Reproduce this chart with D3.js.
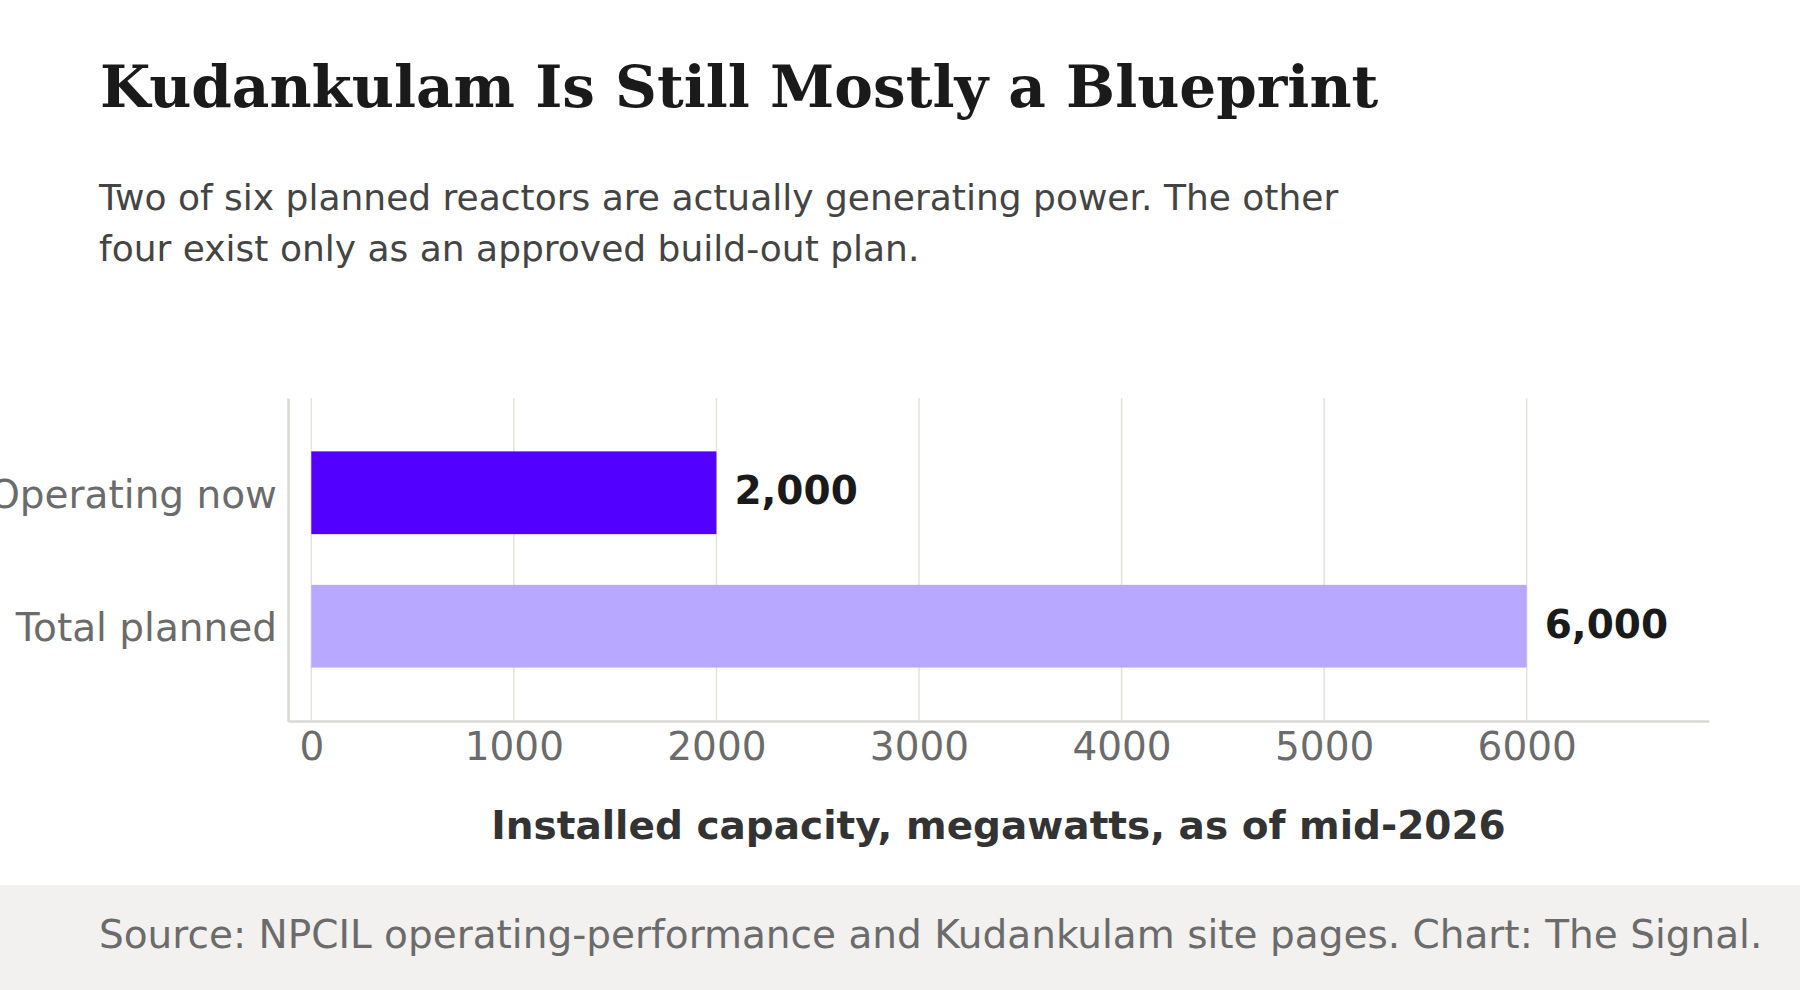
<!DOCTYPE html>
<html>
<head>
<meta charset="utf-8">
<script src="https://cdn.jsdelivr.net/npm/d3@7"></script>
<style>
  body { margin: 0; background: #fff; }
  svg { display: block; }
</style>
</head>
<body>
<div id="chart"></div>
<script>
// chart data
var categories = ["Operating now", "Total planned"];
var capacityMW = [2000, 6000];
var barColors = ["#5200ff", "#b8a8ff"];
var xTicks = [0, 1000, 2000, 3000, 4000, 5000, 6000];

var W = 1800, H = 990;
var margin = { top: 398, right: 91, bottom: 269, left: 288 };
var width = W - margin.left - margin.right;
var height = H - margin.top - margin.bottom;

var svg = d3.select("#chart").append("svg")
    .attr("width", W)
    .attr("height", H);

// title + subtitle
svg.append("text")
    .attr("x", 100)
    .attr("y", 107)
    .style("font-family", "'DejaVu Serif', serif")
    .style("font-weight", "bold")
    .style("font-size", "58px")
    .style("fill", "#1a1a1a")
    .text("Kudankulam Is Still Mostly a Blueprint");

var subLines = ["Two of six planned reactors are actually generating power. The other",
                "four exist only as an approved build-out plan."];
svg.append("g").selectAll("text")
    .data(subLines)
    .enter().append("text")
    .attr("x", 99)
    .attr("y", function(d, i) { return 210 + i * 51; })
    .style("font-family", "'DejaVu Sans', sans-serif")
    .style("font-size", "36px")
    .style("fill", "#444")
    .text(function(d) { return d; });

var x = d3.scaleLinear()
    .domain([-115, 6900])
    .range([0, width]);

var y = d3.scaleBand()
    .domain(categories)
    .range([0, height])
    .paddingInner(0.38)
    .paddingOuter(0.4);

var g = svg.append("g")
    .attr("transform", "translate(" + margin.left + "," + margin.top + ")");

// gridlines
g.append("g").selectAll("line")
    .data(xTicks)
    .enter().append("line")
    .attr("x1", function(d) { return x(d); })
    .attr("x2", function(d) { return x(d); })
    .attr("y1", 0)
    .attr("y2", height)
    .style("stroke", "#e3e2df")
    .style("stroke-width", 1.5);

// bars
g.selectAll(".bar")
    .data(categories)
    .enter().append("rect")
    .attr("class", "bar")
    .attr("x", x(0))
    .attr("y", function(d) { return y(d); })
    .attr("width", function(d, i) { return x(capacityMW[i]) - x(0); })
    .attr("height", y.bandwidth())
    .style("fill", function(d, i) { return barColors[i]; });

// value labels
g.selectAll(".val")
    .data(categories)
    .enter().append("text")
    .attr("class", "val")
    .attr("x", function(d, i) { return x(capacityMW[i]) + 18; })
    .attr("y", function(d) { return y(d) + y.bandwidth() / 2; })
    .attr("dy", "0.3em")
    .style("font-family", "'DejaVu Sans', sans-serif")
    .style("font-weight", "bold")
    .style("font-size", "39px")
    .style("fill", "#1a1a1a")
    .text(function(d, i) { return d3.format(",")(capacityMW[i]); });

// x axis
var xAxis = g.append("g")
    .attr("transform", "translate(0," + height + ")")
    .call(d3.axisBottom(x).tickValues(xTicks).tickFormat(d3.format("d")).tickSize(0).tickPadding(11));
xAxis.select(".domain").style("stroke", "#d8d7d3").style("stroke-width", 2.5);
xAxis.selectAll("text")
    .attr("dy", "0.71em")
    .style("font-family", "'DejaVu Sans', sans-serif")
    .style("font-size", "39px")
    .style("fill", "#6b6b6b");

// y axis
var yAxis = g.append("g")
    .call(d3.axisLeft(y).tickSize(0).tickPadding(11));
yAxis.select(".domain").style("stroke", "#d8d7d3").style("stroke-width", 2.5);
yAxis.selectAll("text")
    .attr("dy", "0.38em")
    .style("font-family", "'DejaVu Sans', sans-serif")
    .style("font-size", "39px")
    .style("fill", "#6b6b6b");

// axis title
g.append("text")
    .attr("x", width / 2)
    .attr("y", 441)
    .attr("text-anchor", "middle")
    .style("font-family", "'DejaVu Sans', sans-serif")
    .style("font-weight", "bold")
    .style("font-size", "39px")
    .style("fill", "#333")
    .text("Installed capacity, megawatts, as of mid-2026");

// footer band
svg.append("rect")
    .attr("x", 0)
    .attr("y", 885)
    .attr("width", W)
    .attr("height", H - 885)
    .style("fill", "#f2f1f0");

svg.append("text")
    .attr("x", 99)
    .attr("y", 948)
    .style("font-family", "'DejaVu Sans', sans-serif")
    .style("font-size", "39px")
    .style("fill", "#6b6b6b")
    .text("Source: NPCIL operating-performance and Kudankulam site pages. Chart: The Signal.");
</script>
</body>
</html>
